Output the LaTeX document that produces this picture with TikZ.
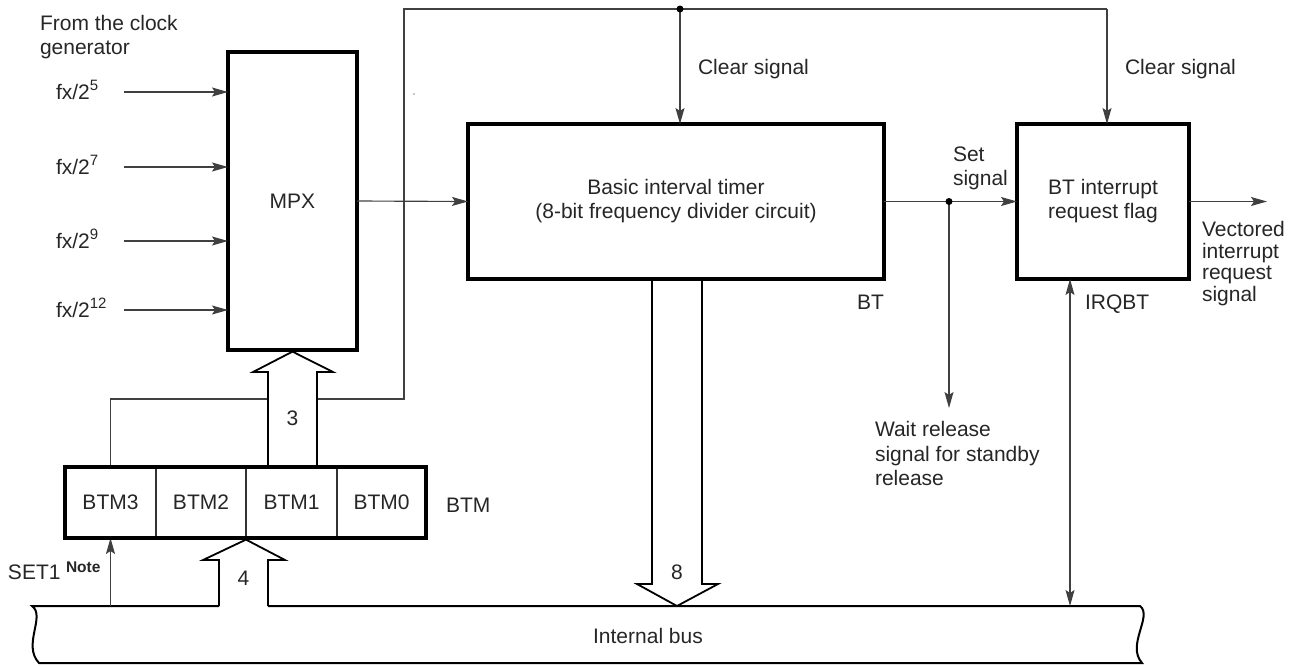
\documentclass[tikz,border=0pt]{standalone}
\usepackage{fontspec}
\setmainfont{Liberation Sans}
\usetikzlibrary{arrows.meta,calc}
\newcommand{\supx}[1]{\raisebox{9pt}{\fontsize{15}{15}\selectfont #1}}
\begin{document}
\begin{tikzpicture}[x=1pt,y=-1pt,
  every node/.style={font=\fontsize{21}{24}\selectfont, text=black!85, inner sep=0pt, outer sep=0pt},
  boxline/.style={draw=black, line width=3.2pt},
  box/.style={boxline, rectangle},
  cell/.style={draw=black!80, line width=1.1pt, rectangle, minimum height=71pt},
  conn/.style={draw=black!75, line width=1.15pt},
  arr/.style={-{Stealth[length=16pt,width=9pt,inset=3pt]}},
  arrs/.style={{Stealth[length=16pt,width=9pt,inset=3pt]}-{Stealth[length=16pt,width=9pt,inset=3pt]}},
  hollow/.style={draw=black, line width=1.8pt, line join=miter},
  bus/.style={draw=black, line width=2pt},
  lbl/.style={anchor=base west},
  mlbl/.style={anchor=north west, align=left},
  dotnode/.style={fill=black, circle, minimum size=7pt, inner sep=0pt}
]
\useasboundingbox (0,0) rectangle (1306,665);

% ---- blocks
\node[box, minimum width=129pt, minimum height=298pt] (mpx) at (292.5,201) {MPX};
\node[box, minimum width=416pt, minimum height=155pt, align=center] (bt) at (676,201.5)
  {Basic interval timer\\(8-bit frequency divider circuit)};
\node[box, minimum width=172pt, minimum height=155pt, align=center] (flag) at (1103,201.5)
  {BT interrupt\\request flag};

% ---- BTM register
\node[cell, minimum width=91pt] (c3) at (110.5,502.5) {BTM3};
\node[cell, minimum width=90pt] (c2) at (201,502.5) {BTM2};
\node[cell, minimum width=91pt] (c1) at (291.5,502.5) {BTM1};
\node[cell, minimum width=89pt] (c0) at (381.5,502.5) {BTM0};

% ---- coordinates
\coordinate (i5) at (124,92);
\coordinate (i7) at (124,167);
\coordinate (i9) at (124,241);
\coordinate (i12) at (124,310);
\coordinate (loopR) at (404,399);
\coordinate (topL) at (404,9);
\coordinate (jn1) at (680,9);
\coordinate (topR) at (1107,9);
\coordinate (jn2) at (949,201.5);
\coordinate (waitEnd) at (949,408);
\coordinate (vecEnd) at (1267,201.5);
\coordinate (irqBus) at (1070,606);
\coordinate (bTL) at (32,606);
\coordinate (bTR) at (1140,606);
\coordinate (bBL) at (39,663);
\coordinate (bBR) at (1142,663);

% ---- internal bus
\draw[bus] (219,606) -- (bTL) .. controls (46,616) and (22,645) .. (bBL) -- (bBR)
  .. controls (1126,645) and (1153,616) .. (bTR) -- (268,606);
\node (ib) at (648,636) {Internal bus};

% ---- inputs
\draw[conn,arr] (i5) -- (i5 -| mpx.west);
\draw[conn,arr] (i7) -- (i7 -| mpx.west);
\draw[conn,arr] (i9) -- (i9 -| mpx.west);
\draw[conn,arr] (i12) -- (i12 -| mpx.west);

% ---- clear loop
\draw[conn] (c3.north) |- (loopR) -- (topL) -- (topR);
\draw[conn,arr] (topR) -- (topR |- flag.north);
\draw[conn,arr] (jn1) -- (jn1 |- bt.north);

% ---- signal path
\draw[conn,arr] (mpx.east) -- (bt.west);
\draw[conn,arr] (bt.east) -- (flag.west);
\draw[conn,arr] (jn2) -- (waitEnd);
\draw[conn,arr] (flag.east) -- (vecEnd);
\draw[conn,arrs] (irqBus) -- (irqBus |- flag.south);
\draw[conn,arr] (c3.south |- bTL) -- (c3.south);

% ---- hollow bus arrows
\filldraw[hollow, fill=white] (268,468.6) -- (268,372) -- (253,372) -- (292.5,351.6)
  -- (333,372) -- (317,372) -- (317,468.6);
\draw[hollow] (219,606) -- (219,560) -- (203,560) -- (246,539.6) -- (285,560)
  -- (268,560) -- (268,606);
\draw[hollow] (652,280.6) -- (652,584) -- (637,584) -- (677,606) -- (718,584)
  -- (702,584) -- (702,280.6);

% ---- outer frame of BTM
\draw[boxline] (c3.north west) rectangle (c0.south east);

% ---- junction dots
\node[dotnode] (d1) at (jn1) {};
\node[dotnode] (d2) at (jn2) {};
\fill[black!45] (414,94) circle (0.9);

% ---- labels
\node[mlbl] (from) at (40,15.3) {From the clock\\generator};
\node[lbl] (f5) at (56,99) {fx/2\supx{5}};
\node[lbl] (f7) at (56,174) {fx/2\supx{7}};
\node[lbl] (f9) at (56,248) {fx/2\supx{9}};
\node[lbl] (f12) at (56,317) {fx/2\supx{12}};
\node[lbl] (clr1) at (698,74) {Clear signal};
\node[lbl] (clr2) at (1125,74) {Clear signal};
\node[mlbl] (setl) at (953,147.3) {Set\\signal};
\node[lbl] (btl) at (857,309) {BT};
\node[lbl] (irq) at (1085,309) {IRQBT};
\node[mlbl, font=\fontsize{21}{21.5}\selectfont] (vec) at (1202,221.3)
  {Vectored\\interrupt\\request\\signal};
\node[mlbl, font=\fontsize{21}{24.5}\selectfont] (wait) at (875,421.3)
  {Wait release\\signal for standby\\release};
\node[lbl] (btm) at (446,512) {BTM};
\node[lbl] (set1) at (8,579) {SET1};
\node[lbl, font=\fontsize{15.5}{17}\selectfont\bfseries] (note) at (66,572) {Note};
\node (n3) at (292.5,418) {3};
\node (n4) at (243.5,578) {4};
\node (n8) at (677,572) {8};
\end{tikzpicture}
\end{document}
